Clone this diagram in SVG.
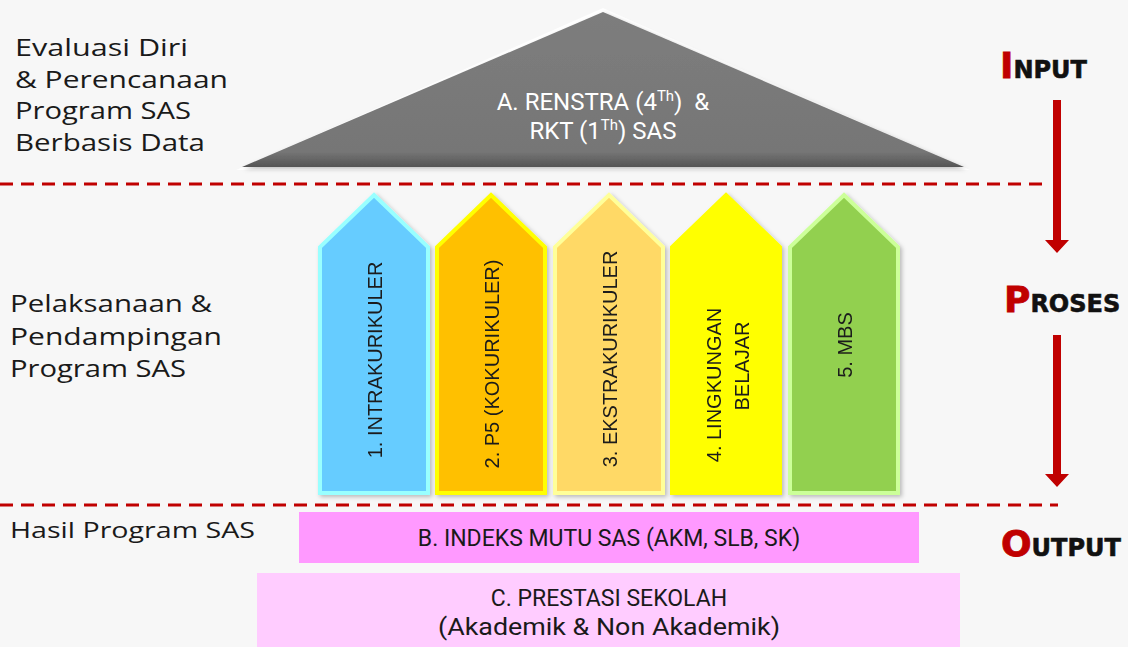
<svg xmlns="http://www.w3.org/2000/svg" width="1128" height="647" viewBox="0 0 1128 647">
<style>
.lbl{font-family:"Open Sans","Noto Sans",sans-serif;font-size:24px;fill:#1a1a1a}
.cond{font-family:Roboto,"Liberation Sans",sans-serif}
.pil{font-family:"Liberation Sans",Arial,sans-serif;font-size:20px;fill:#1a1a1a}
.dash{stroke:#c00000;stroke-width:3;stroke-dasharray:13 8;fill:none}
.big{font-family:"DejaVu Sans",sans-serif;font-weight:bold;fill:#c00000;font-size:36px;stroke:#c00000;stroke-width:0.8}
.sm{font-family:"DejaVu Sans",sans-serif;font-weight:bold;fill:#111;font-size:24px;stroke:#111;stroke-width:0.6}
.arr{fill:#c00000}
</style>
<defs>
<filter id="sh" x="-10%" y="-10%" width="130%" height="130%">
<feDropShadow dx="2" dy="2" stdDeviation="2" flood-color="#000" flood-opacity="0.25"/>
</filter>
<linearGradient id="tg" x1="0" y1="0" x2="0" y2="1">
<stop offset="0" stop-color="#7d7d7d"/>
<stop offset="0.9" stop-color="#767676"/>
<stop offset="1" stop-color="#555"/>
</linearGradient>
</defs>
<rect width="1128" height="647" fill="#f7f7f7"/>

<g id="left-labels">
<text class="lbl" x="15" y="56" textLength="173" lengthAdjust="spacingAndGlyphs">Evaluasi Diri</text>
<text class="lbl" x="15" y="88" textLength="213" lengthAdjust="spacingAndGlyphs">&amp; Perencanaan</text>
<text class="lbl" x="15" y="119" textLength="176" lengthAdjust="spacingAndGlyphs">Program SAS</text>
<text class="lbl" x="15" y="151" textLength="190" lengthAdjust="spacingAndGlyphs">Berbasis Data</text>
<text class="lbl" x="10" y="312" textLength="202" lengthAdjust="spacingAndGlyphs">Pelaksanaan &amp;</text>
<text class="lbl" x="10" y="345" textLength="212" lengthAdjust="spacingAndGlyphs">Pendampingan</text>
<text class="lbl" x="10" y="377" textLength="176" lengthAdjust="spacingAndGlyphs">Program SAS</text>
<text class="lbl" x="10" y="538" style="font-size:22px" textLength="245" lengthAdjust="spacingAndGlyphs">Hasil Program SAS</text>
</g>

<g id="connectors">
<line class="dash" x1="0" y1="184" x2="1045" y2="184"/>
<line class="dash" x1="0" y1="505" x2="1058" y2="505"/>
<path class="arr" d="M1053 100 H1061 V240 H1069 L1057 253 L1045 240 H1053 Z"/>
<path class="arr" d="M1053 335 H1061 V474 H1069 L1057 487 L1045 474 H1053 Z"/>
</g>

<g id="stage-labels">
<text x="1000" y="78"><tspan class="big">I</tspan><tspan class="sm">NPUT</tspan></text>
<text x="1004" y="312"><tspan class="big">P</tspan><tspan class="sm">ROSES</tspan></text>
<text x="1001" y="556"><tspan class="big">O</tspan><tspan class="sm">UTPUT</tspan></text>
</g>

<g id="roof">
<polygon points="603,8 236,170 970,170" fill="#ffffff" opacity="0.9"/>
<polygon points="603,12 242,167 964,167" fill="url(#tg)" filter="url(#sh)"/>
<text class="cond" x="603" y="110" text-anchor="middle" font-size="24" fill="#fff">A. RENSTRA (4<tspan font-size="15" dy="-9">Th</tspan><tspan dy="9">)&#160; &amp;</tspan></text>
<text class="cond" x="603" y="139" text-anchor="middle" font-size="24" fill="#fff">RKT (1<tspan font-size="15" dy="-9">Th</tspan><tspan dy="9">) SAS</tspan></text>
</g>

<g id="p1" filter="url(#sh)">
<polygon points="374,195 428,247 428,493 320,493 320,247" fill="#66ccff" stroke="#99ffff" stroke-width="4" stroke-linejoin="miter"/>
<text class="pil" transform="translate(382,360) rotate(-90)" text-anchor="middle">1. INTRAKURIKULER</text>
</g>
<g id="p2" filter="url(#sh)">
<polygon points="491,195 545,247 545,493 437,493 437,247" fill="#ffc000" stroke="#ffff00" stroke-width="4"/>
<text class="pil" transform="translate(499,364) rotate(-90)" text-anchor="middle">2. P5 (KOKURIKULER)</text>
</g>
<g id="p3" filter="url(#sh)">
<polygon points="609,195 663,247 663,493 555,493 555,247" fill="#ffd966" stroke="#ffff99" stroke-width="4"/>
<text class="pil" transform="translate(617,359) rotate(-90)" text-anchor="middle">3. EKSTRAKURIKULER</text>
</g>
<g id="p4" filter="url(#sh)">
<polygon points="726,195 780,247 780,493 672,493 672,247" fill="#ffff00" stroke="#ffff00" stroke-width="4"/>
<text class="pil" transform="translate(721,385) rotate(-90)" text-anchor="middle">4. LINGKUNGAN</text>
<text class="pil" transform="translate(749,366) rotate(-90)" text-anchor="middle">BELAJAR</text>
</g>
<g id="p5" filter="url(#sh)">
<polygon points="844,195 898,247 898,493 790,493 790,247" fill="#92d050" stroke="#ccff99" stroke-width="4"/>
<text class="pil" transform="translate(852,345) rotate(-90)" text-anchor="middle">5. MBS</text>
</g>

<g id="b-box">
<rect x="299" y="512" width="620" height="51" fill="#ff99ff"/>
<text class="cond" x="609" y="546" text-anchor="middle" font-size="23" fill="#1a1a1a">B. INDEKS MUTU SAS (AKM, SLB, SK)</text>
</g>
<g id="c-box">
<rect x="257" y="573" width="703" height="74" fill="#ffccff"/>
<text class="cond" x="609" y="606" text-anchor="middle" font-size="23" fill="#1a1a1a">C. PRESTASI SEKOLAH</text>
<text class="cond" x="609" y="635" text-anchor="middle" font-size="23" fill="#1a1a1a" textLength="342" lengthAdjust="spacingAndGlyphs">(Akademik &amp; Non Akademik)</text>
</g>
</svg>
